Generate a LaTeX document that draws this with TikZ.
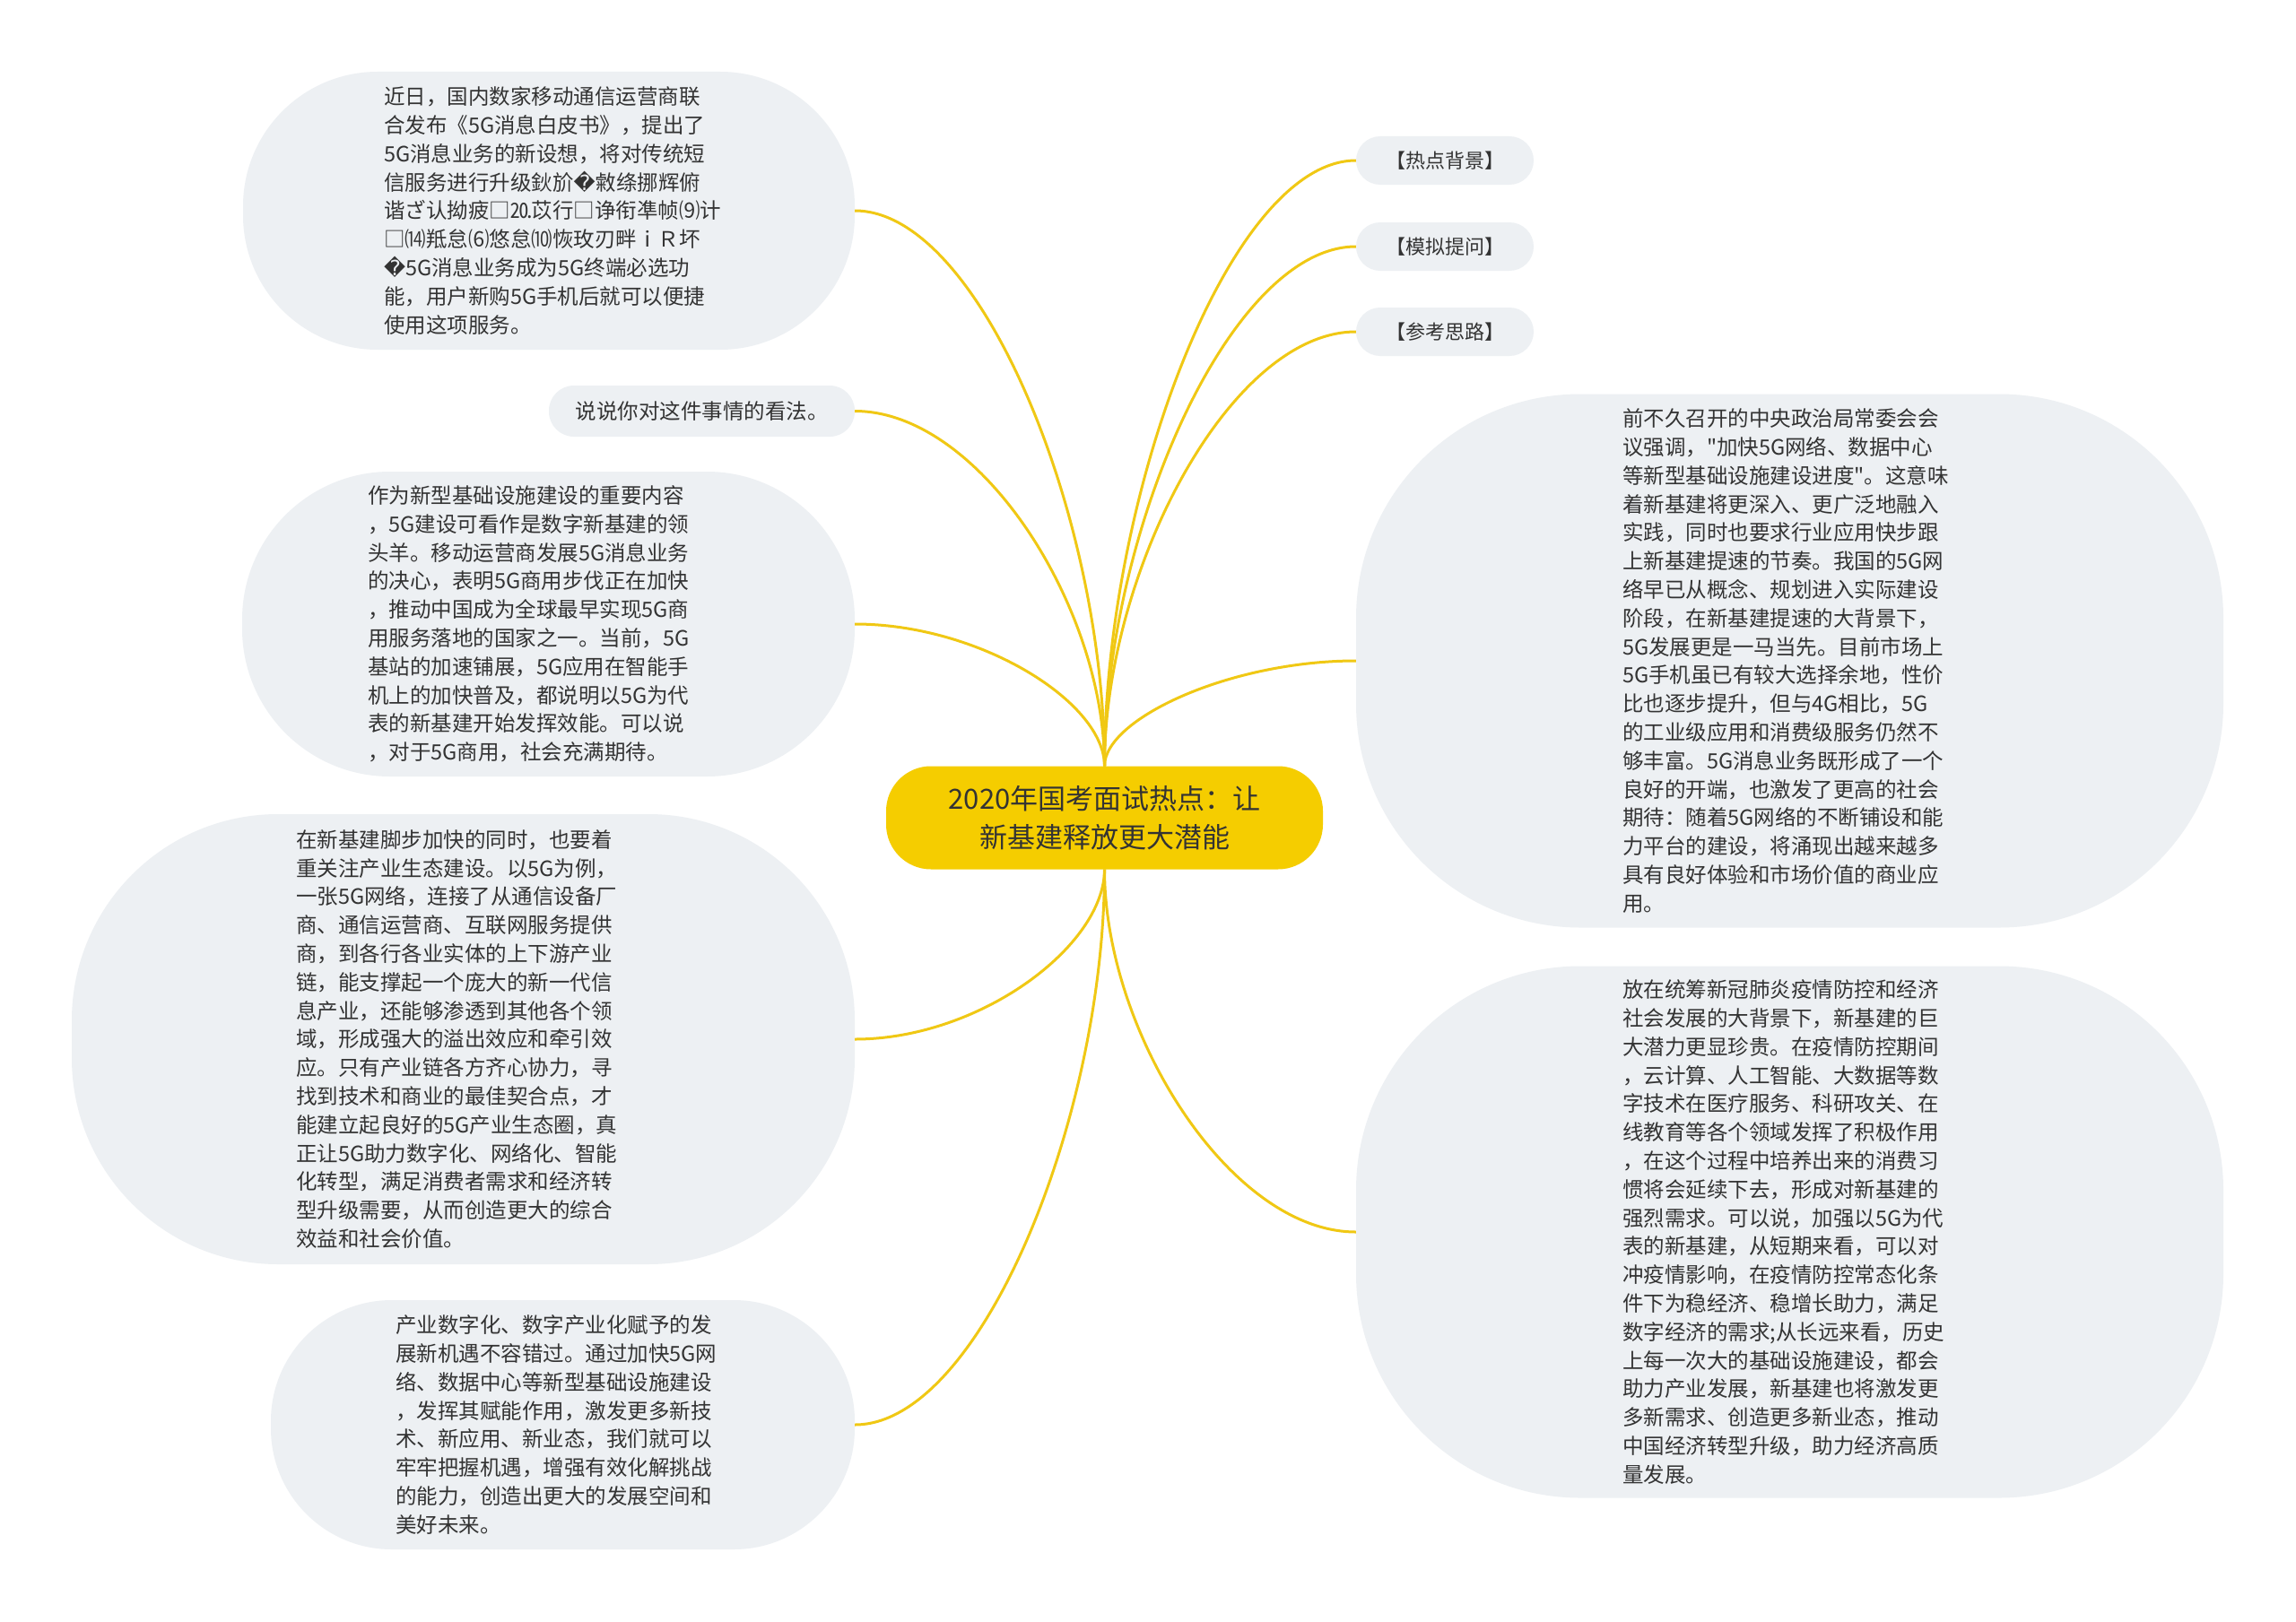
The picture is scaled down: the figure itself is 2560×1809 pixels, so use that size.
\documentclass[tikz,border=0pt]{standalone}
\usepackage{fontspec}
\usetikzlibrary{calc}
\newfontfamily\cjk{Noto Sans CJK SC}
\newfontfamily\dvs{DejaVu Sans}
\newcommand\rep{{\dvs\char"FFFD}}
\definecolor{bubblefill}{RGB}{237,240,243}
\definecolor{centerfill}{RGB}{245,205,0}
\definecolor{linkcol}{RGB}{240,200,20}
\definecolor{txt}{RGB}{51,51,51}
\newcommand\linkup[2]{\draw[link] let \p1=(#1), \p2=(#2) in (\p1) .. controls (\x1,{\y1+0.45*(\y2-\y1)}) and ({\x2+0.5*(\x1-\x2)},\y2) .. (\p2);}
\begin{document}
\begin{tikzpicture}[x=1pt,y=-1pt,
  bubble/.style={draw=none, fill=bubblefill, text=txt, align=left, inner sep=0pt,
    font=\cjk\fontsize{23.5}{31.8}\selectfont},
  tag/.style={bubble, align=center, font=\cjk\fontsize{22}{28}\selectfont,
    minimum width=198pt, minimum height=54pt, rounded corners=27pt},
  central/.style={draw=none, fill=centerfill, text=txt, align=center, inner sep=0pt,
    font=\cjk\fontsize{31}{43}\selectfont, minimum width=487pt, minimum height=115pt, rounded corners=50pt},
  link/.style={draw=linkcol, line width=3pt}]
\path[fill=white, use as bounding box] (0,0) rectangle (2560,1809);

\node[central] (c) at (1231.5,912) {2020年国考面试热点：让\\新基建释放更大潜能};

\node[bubble, text width=368pt, minimum width=682pt, minimum height=310pt, rounded corners=150pt] (b1) at (612,235) {近日，国内数家移动通信运营商联\\合发布《5G消息白皮书》，提出了\\5G消息业务的新设想，将对传统短\\信服务进行升级鈥斺\rep 敹绦挪辉俯\\谐ざ认拗疲□⒛苡行□诤衔凖帧⑼计\\□⒁羝怠⑹悠怠⑽恢玫刃畔ⅰＲ坏\\\rep 5G消息业务成为5G终端必选功\\能，用户新购5G手机后就可以便捷\\使用这项服务。};

\node[bubble, minimum width=341pt, minimum height=57pt, rounded corners=28pt, align=center] (b2) at (782.5,458.5) {说说你对这件事情的看法。};

\node[bubble, text width=403pt, minimum width=683pt, minimum height=340pt, rounded corners=165pt] (b3) at (611.5,696) {作为新型基础设施建设的重要内容\\，5G建设可看作是数字新基建的领\\头羊。移动运营商发展5G消息业务\\的决心，表明5G商用步伐正在加快\\，推动中国成为全球最早实现5G商\\用服务落地的国家之一。当前，5G\\基站的加速铺展，5G应用在智能手\\机上的加快普及，都说明以5G为代\\表的新基建开始发挥效能。可以说\\，对于5G商用，社会充满期待。};

\node[bubble, text width=373pt, minimum width=873pt, minimum height=502pt, rounded corners=230pt] (b4) at (516.5,1159) {在新基建脚步加快的同时，也要着\\重关注产业生态建设。以5G为例，\\一张5G网络，连接了从通信设备厂\\商、通信运营商、互联网服务提供\\商，到各行各业实体的上下游产业\\链，能支撑起一个庞大的新一代信\\息产业，还能够渗透到其他各个领\\域，形成强大的溢出效应和牵引效\\应。只有产业链各方齐心协力，寻\\找到技术和商业的最佳契合点，才\\能建立起良好的5G产业生态圈，真\\正让5G助力数字化、网络化、智能\\化转型，满足消费者需求和经济转\\型升级需要，从而创造更大的综合\\效益和社会价值。};

\node[bubble, text width=373pt, minimum width=651pt, minimum height=278pt, rounded corners=135pt] (b5) at (627.5,1589) {产业数字化、数字产业化赋予的发\\展新机遇不容错过。通过加快5G网\\络、数据中心等新型基础设施建设\\，发挥其赋能作用，激发更多新技\\术、新应用、新业态，我们就可以\\牢牢把握机遇，增强有效化解挑战\\的能力，创造出更大的发展空间和\\美好未来。};

\node[tag] (r1) at (1611,179) {【热点背景】};
\node[tag] (r2) at (1611,275) {【模拟提问】};
\node[tag] (r3) at (1611,370) {【参考思路】};

\node[bubble, text width=373pt, minimum width=967pt, minimum height=595pt, rounded corners=250pt] (r4) at (1995.5,737) {前不久召开的中央政治局常委会会\\议强调，"加快5G网络、数据中心\\等新型基础设施建设进度"。这意味\\着新基建将更深入、更广泛地融入\\实践，同时也要求行业应用快步跟\\上新基建提速的节奏。我国的5G网\\络早已从概念、规划进入实际建设\\阶段，在新基建提速的大背景下，\\5G发展更是一马当先。目前市场上\\5G手机虽已有较大选择余地，性价\\比也逐步提升，但与4G相比，5G\\的工业级应用和消费级服务仍然不\\够丰富。5G消息业务既形成了一个\\良好的开端，也激发了更高的社会\\期待：随着5G网络的不断铺设和能\\力平台的建设，将涌现出越来越多\\具有良好体验和市场价值的商业应\\用。};

\node[bubble, text width=373pt, minimum width=967pt, minimum height=593pt, rounded corners=250pt] (r5) at (1995.5,1374) {放在统筹新冠肺炎疫情防控和经济\\社会发展的大背景下，新基建的巨\\大潜力更显珍贵。在疫情防控期间\\，云计算、人工智能、大数据等数\\字技术在医疗服务、科研攻关、在\\线教育等各个领域发挥了积极作用\\，在这个过程中培养出来的消费习\\惯将会延续下去，形成对新基建的\\强烈需求。可以说，加强以5G为代\\表的新基建，从短期来看，可以对\\冲疫情影响，在疫情防控常态化条\\件下为稳经济、稳增长助力，满足\\数字经济的需求;从长远来看，历史\\上每一次大的基础设施建设，都会\\助力产业发展，新基建也将激发更\\多新需求、创造更多新业态，推动\\中国经济转型升级，助力经济高质\\量发展。};

\linkup{c.north}{b1.east}
\linkup{c.north}{b2.east}
\linkup{c.north}{b3.east}
\linkup{c.north}{r1.west}
\linkup{c.north}{r2.west}
\linkup{c.north}{r3.west}
\linkup{c.north}{r4.west}
\linkup{c.south}{b4.east}
\linkup{c.south}{b5.east}
\linkup{c.south}{r5.west}
\end{tikzpicture}
\end{document}
